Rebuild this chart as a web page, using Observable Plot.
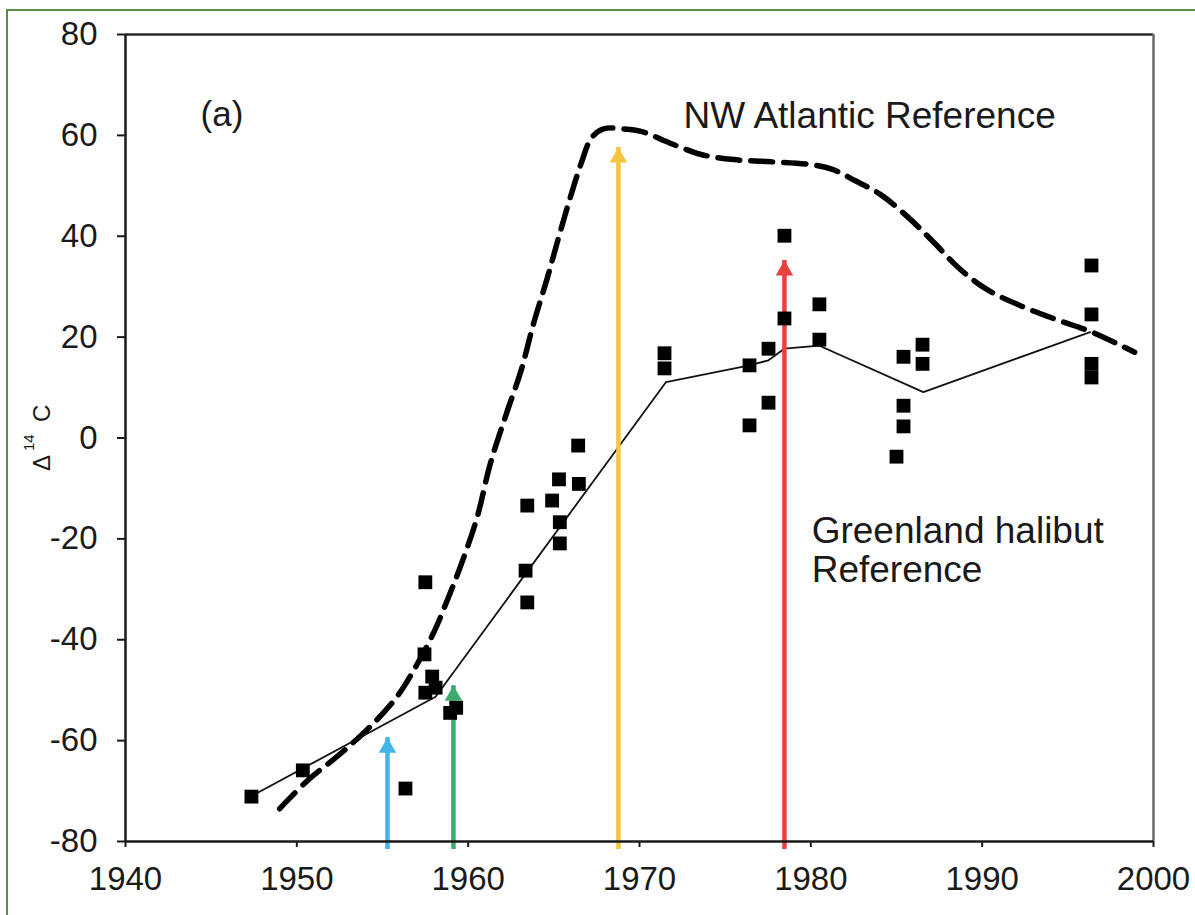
<!DOCTYPE html>
<html><head><meta charset="utf-8">
<script src="https://cdn.jsdelivr.net/npm/d3@7"></script>
<script src="https://cdn.jsdelivr.net/npm/@observablehq/plot@0.6"></script>
<style>
body{margin:0;background:#fff;}
#wrap{position:relative;width:1195px;height:915px;overflow:hidden;background:#fff;}
#border{position:absolute;left:6px;top:9px;width:1300px;height:1000px;border-left:2px solid #5b8f47;border-top:2px solid #5b8f47;pointer-events:none;}
#wrap svg{position:absolute;left:0;top:0;}
</style></head><body>
<div id="wrap"><div id="border"></div></div>
<script>
// Measured sample points (year, Δ14C)
const pointYear  = [1947.35,1950.35,1957.5,1957.45,1957.9,1957.5,1958.1,1956.34,1958.95,1959.3,1963.45,1963.35,1963.45,1964.9,1965.3,1965.35,1965.35,1966.42,1966.46,1971.46,1971.46,1976.42,1976.42,1977.53,1977.53,1978.46,1978.46,1980.5,1980.5,1985.0,1985.41,1985.41,1985.41,1986.52,1986.52,1996.38,1996.38,1996.38,1996.38];
const pointValue = [-71.1,-65.9,-28.6,-42.9,-47.3,-50.5,-49.5,-69.5,-54.5,-53.5,-13.4,-26.3,-32.6,-12.4,-8.2,-16.7,-20.9,-1.5,-9.1,16.8,13.8,14.4,2.5,17.7,7.0,40.1,23.7,26.5,19.5,-3.7,2.3,6.4,16.1,18.5,14.7,34.2,24.5,14.7,12.0];

// Greenland halibut reference (solid line)
const halibutYear  = [1947.35,1958.1,1971.55,1976.42,1977.53,1978.45,1980.5,1986.57,1996.3];
const halibutValue = [-71,-51.3,11.1,14.4,15.4,17.7,18.3,9.1,21.0];

// NW Atlantic reference (dashed line)
const nwYear  = [1949.0,1950.6,1952.4,1954.2,1955.8,1957.0,1958.0,1958.8,1959.6,1960.5,1961.3,1962.2,1963.1,1963.8,1964.6,1965.3,1965.9,1966.6,1967.2,1967.9,1969.3,1970.3,1971.4,1972.5,1973.6,1975.5,1977.5,1980.0,1981.3,1982.6,1984.1,1985.7,1987.2,1988.7,1990.3,1992.4,1994.4,1996.4,1998.9];
const nwValue = [-73.5,-68,-63,-57.5,-51.5,-45,-38.5,-32,-25,-16,-5,4.5,13.5,22.5,31.5,40,47,54.5,59.5,61.3,61.2,60.6,59,57.5,56.2,55.2,54.8,54.2,53.2,51,48.2,43.7,38.7,33.5,29.4,26,23.4,21,17];

// Arrows
const arrowYear  = [1955.29,1959.14,1968.77,1978.46];
const arrowTip   = [-59.4,-49.1,57.6,35.2];
const arrowColor = ["#45b4e8","#3daa6e","#f3c640","#e8403f"];

// Axis ticks
const xTicks = [1940,1950,1960,1970,1980,1990,2000];
const yTicks = [-80,-60,-40,-20,0,20,40,60,80];

// Labels
const labelText = ["(a)","NW Atlantic Reference","Greenland halibut\nReference"];
const labelYear = [1944.38,1972.57,1980.05];
const labelValue = [64.0,63.8,-22.3];
const yLabelParts = ["Δ","14","C"];

const points = pointYear.map((x,i)=>({x, y:pointValue[i]}));
const halibut = halibutYear.map((x,i)=>({x, y:halibutValue[i]}));
const nw = nwYear.map((x,i)=>({x, y:nwValue[i]}));
const arrows = arrowYear.map((x,i)=>({x, tip:arrowTip[i], color:arrowColor[i]}));
const labels = labelText.map((t,i)=>({text:t, x:labelYear[i], y:labelValue[i]}));

const font = "'Liberation Sans', Arial, Helvetica, sans-serif";
const ink = "#1a1a1a";
const plot = Plot.plot({
  width:1195, height:915,
  marginLeft:125, marginRight:42, marginTop:34, marginBottom:74,
  style:{fontFamily:font, color:ink, background:"transparent", overflow:"visible"},
  x:{domain:[1940,2000]},
  y:{domain:[-80,80]},
  color:{type:"identity"},
  marks:[
    Plot.ruleY([80],{stroke:"#2a2a2a",strokeWidth:2.5}),
    Plot.ruleX([2000],{stroke:"#6a6a6a",strokeWidth:2.5}),
    Plot.line(nw,{x:"x",y:"y",curve:"catmull-rom",stroke:"#000",strokeWidth:5.5,strokeDasharray:"22,11"}),
    Plot.line(halibut,{x:"x",y:"y",stroke:"#111",strokeWidth:1.8}),
    Plot.ruleX(arrows,{x:"x",y1:-80,y2:"tip",stroke:"color",strokeWidth:4.5,insetTop:8}),
    Plot.dot(arrows,{x:"x",y:"tip",symbol:"triangle",r:6.5,fill:"color",stroke:null,dy:10}),
    Plot.dot(points,{x:"x",y:"y",symbol:"square",r:7.8,fill:"#000",stroke:null}),
    Plot.ruleY([-80],{stroke:ink,strokeWidth:2.5}),
    Plot.ruleX([1940],{stroke:ink,strokeWidth:2.5}),
    Plot.axisX({ticks:xTicks,tickSize:6,tickPadding:19,fontSize:33,tickFormat:d=>String(d),label:null,strokeWidth:2,stroke:ink}),
    Plot.axisY({ticks:yTicks,tickSize:8,tickPadding:20,fontSize:33,tickFormat:d=>String(d),label:null,strokeWidth:2,stroke:ink}),
    Plot.text([labels[0]],{x:"x",y:"y",text:"text",textAnchor:"start",fontSize:35,fill:ink}),
    Plot.text([labels[1]],{x:"x",y:"y",text:"text",textAnchor:"start",fontSize:37,fill:ink}),
    Plot.text([labels[2]],{x:"x",y:"y",text:"text",textAnchor:"start",fontSize:37,lineHeight:1.055,fill:ink}),
    Plot.text([yLabelParts[0]],{frameAnchor:"left",text:d=>d,rotate:-90,dx:-83,dy:33,fontSize:24,fill:ink}),
    Plot.text([yLabelParts[1]],{frameAnchor:"left",text:d=>d,rotate:-90,dx:-96,dy:13,fontSize:15,fill:ink}),
    Plot.text([yLabelParts[2]],{frameAnchor:"left",text:d=>d,rotate:-90,dx:-83,dy:-16,fontSize:24,fill:ink})
  ]
});
document.getElementById("wrap").insertBefore(plot, document.getElementById("border"));
</script>
</body></html>
